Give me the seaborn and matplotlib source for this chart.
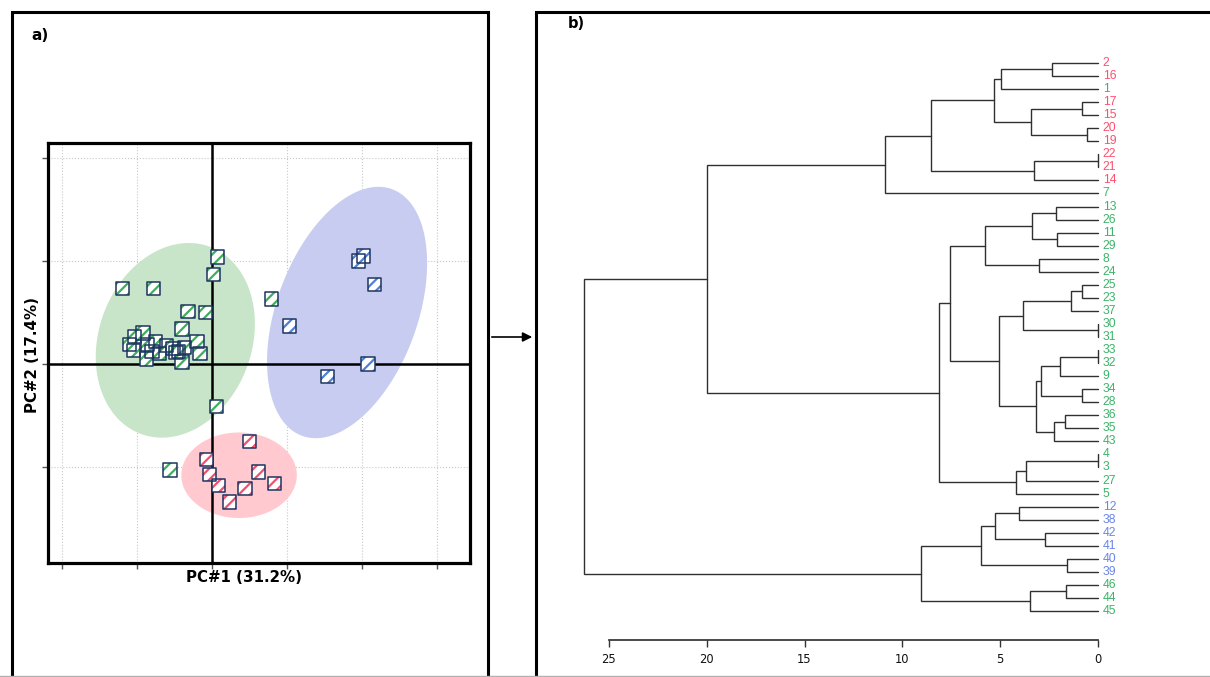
"""
PCA score plot (a) and hierarchical clustering dendrogram (b)
"""
import numpy as np
import pandas as pd
import seaborn as sns
import matplotlib.pyplot as plt
from matplotlib.patches import Rectangle, FancyArrowPatch
from matplotlib.lines import Line2D

sns.set_theme(style='ticks')
plt.rcParams['font.family'] = ['DejaVu Sans']
plt.rcParams['hatch.linewidth'] = 1.6

# ---- PCA scores ----
pc1_green = [0.07, 0.02, -1.19, -0.78, -0.32, -0.09, 0.79, -0.40, -0.92, -1.03,
             -1.10, -1.05, -0.86, -0.75, -0.70, -0.87, -0.61, -0.52, -0.48, -0.37,
             -0.20, -0.16, -0.40, 0.06, -0.56, -0.80, -0.45]
pc2_green = [1.04, 0.87, 0.73, 0.73, 0.51, 0.50, 0.63, 0.34, 0.30, 0.27,
             0.19, 0.13, 0.19, 0.22, 0.10, 0.05, 0.18, 0.15, 0.11, 0.16,
             0.22, 0.10, 0.02, -0.41, -1.03, 0.12, 0.12]
pc1_blue = [1.95, 2.02, 2.17, 1.03, 2.08, 1.54]
pc2_blue = [1.00, 1.05, 0.77, 0.37, 0.00, -0.12]
pc1_red = [0.50, -0.07, -0.03, 0.09, 0.62, 0.44, 0.83, 0.23]
pc2_red = [-0.75, -0.93, -1.07, -1.18, -1.05, -1.21, -1.16, -1.34]

# confidence ellipses: centre, semi-axis along tilt, semi-axis across (PC1 units), tilt from vertical (deg)
ell_names = ['green', 'blue', 'red']
ell_cx = [-0.49, 1.80, 0.36]
ell_cy = [0.23, 0.50, -1.08]
ell_a = [1.33, 1.75, 0.57]
ell_b = [1.02, 0.94, 0.77]
ell_tilt = [20, 20, 0]

# ---- dendrogram (leaf order top to bottom) ----
leaf_labels = ['2', '16', '1', '17', '15', '20', '19', '22', '21', '14', '7',
               '13', '26', '11', '29', '8', '24', '25', '23', '37', '30', '31',
               '33', '32', '9', '34', '28', '36', '35', '43', '4', '3', '27', '5',
               '12', '38', '42', '41', '40', '39', '46', '44', '45']
leaf_groups = (['red', 'red', 'green'] + ['red'] * 7 + ['green'] * 24
               + ['blue'] * 6 + ['green'] * 3)
merge_a = ['2', 'n0', '17', '20', 'n2', 'n1', '22', 'n6', 'n5', 'n8',
           '13', '11', 'n10', '8', 'n12', '25', 'n15', '30', 'n16', '33', 'n19',
           '34', 'n20', '36', 'n23', 'n22', 'n18', 'n14', '4', 'n28', 'n29', 'n27', 'n9',
           '12', '42', 'n33', '40', 'n35', '46', 'n38', 'n37', 'n32']
merge_b = ['16', '1', '15', '19', 'n3', 'n4', '21', '14', 'n7', '7',
           '26', '29', 'n11', '24', 'n13', '23', '37', '31', 'n17', '32', '9',
           '28', 'n21', '35', '43', 'n24', 'n25', 'n26', '3', '27', '5', 'n30', 'n31',
           '38', '41', 'n34', '39', 'n36', '44', '45', 'n39', 'n40']
merge_h = [2.37, 4.98, 0.80, 0.58, 3.44, 5.33, 0.0, 3.25, 8.55, 10.87,
           2.15, 2.08, 3.36, 3.02, 5.78, 0.80, 1.38, 0.0, 3.82, 0.0, 1.93,
           0.80, 2.91, 1.70, 2.25, 3.19, 5.06, 7.57, 0.0, 3.70, 4.19, 8.11, 20.0,
           4.02, 2.71, 5.25, 1.58, 5.96, 1.65, 3.46, 9.05, 26.28]
dist_ticks = [25, 20, 15, 10, 5, 0]

hatch_col = {'green': '#3fae5c', 'blue': '#4f7fd8', 'red': '#f2506e'}
fill_col = {'green': '#c9e5c9', 'blue': '#c7ccf0', 'red': '#ffc9cf'}
label_col = {'green': '#3cb46a', 'blue': '#6a86e8', 'red': '#ff4f6e'}
navy = '#1e3560'

fig = plt.figure(figsize=(12.1, 6.77), dpi=100)

# ---------------- panel a ----------------
ax = fig.add_axes([0.0397, 0.1684, 0.3488, 0.6204])
ax.set_xlim(-2.187, 3.44)
ax.set_ylim(-1.932, 2.146)
ax.set_xticks([-2, -1, 0, 1, 2, 3])
ax.set_yticks([-1, 0, 1, 2])
ax.set_xticklabels([])
ax.set_yticklabels([])
ax.tick_params(length=4, width=1, color='#555555', direction='out')
ax.grid(True, linestyle=':', color='#c8c8c8', linewidth=0.8)
ax.set_axisbelow(True)
for sp in ax.spines.values():
    sp.set_linewidth(2.3)
    sp.set_color('black')

# aspect ratio between y and x units on screen
bb = ax.get_position()
kx = bb.width * 1210 / (3.44 + 2.187)
ky = bb.height * 677 / (2.146 + 1.932)
ratio = ky / kx
t = np.linspace(0, 2 * np.pi, 200)
for name, cx, cy, a, b, tl in zip(ell_names, ell_cx, ell_cy, ell_a, ell_b, ell_tilt):
    th = np.deg2rad(tl)
    ex = a * np.cos(t) * np.sin(th) + b * np.sin(t) * np.cos(th)
    ey = a * np.cos(t) * np.cos(th) - b * np.sin(t) * np.sin(th)
    ax.fill(cx + ex, cy + ey / ratio, color=fill_col[name], lw=0, zorder=1)

ax.axhline(0, color='black', lw=1.8, zorder=2)
ax.axvline(0, color='black', lw=1.8, zorder=2)

groups = [('green', pc1_green, pc2_green), ('red', pc1_red, pc2_red),
          ('blue', pc1_blue, pc2_blue)]
for name, xs, ys in groups:
    df = pd.DataFrame({'PC1': xs, 'PC2': ys})
    sns.scatterplot(data=df, x='PC1', y='PC2', marker='s', s=92, color='white',
                    edgecolor=hatch_col[name], linewidth=0, hatch='///', ax=ax, zorder=3)
    sns.scatterplot(data=df, x='PC1', y='PC2', marker='s', s=92, facecolor='none',
                    edgecolor=navy, linewidth=1.1, ax=ax, zorder=4)
ax.set_xlabel('')
ax.set_ylabel('')

fig.text(243.5 / 1210, 1 - 578 / 677, 'PC#1 (31.2%)', ha='center', va='center',
         fontsize=10.8, fontweight='bold', color='black')
fig.text(32.3 / 1210, 1 - 355 / 677, 'PC#2 (17.4%)', ha='center', va='center',
         fontsize=10.8, fontweight='bold', rotation=90, color='black')

# ---------------- panel b ----------------
ax2 = fig.add_axes([0.47107, 0.05465, 0.52893, 0.88626])
ax2.set_xlim(26.99, -5.73)
ax2.set_ylim(44.22, -1.76)
pos = {lab: (i, 0.0) for i, lab in enumerate(leaf_labels)}
for i, (a, b, h) in enumerate(zip(merge_a, merge_b, merge_h)):
    ya, ha = pos[a]
    yb, hb = pos[b]
    ax2.plot([ha, h, h, hb], [ya, ya, yb, yb], color='#303030', lw=1.0,
             solid_joinstyle='miter', clip_on=False)
    pos['n%d' % i] = ((ya + yb) / 2, h)
for i, (lab, g) in enumerate(zip(leaf_labels, leaf_groups)):
    ax2.text(-0.25, i, lab, color=label_col[g], fontsize=8.8, ha='left', va='center',
             family=['Liberation Sans', 'DejaVu Sans'])
sns.despine(ax=ax2, left=True)
ax2.set_yticks([])
ax2.set_xticks(dist_ticks)
ax2.set_xticklabels([str(v) for v in dist_ticks], fontsize=8.3, color='#111111')
ax2.spines['bottom'].set_bounds(0, 25)
ax2.spines['bottom'].set_color('#333333')
ax2.tick_params(axis='x', length=5, width=1, color='#333333', pad=4)
ax2.patch.set_alpha(0)

# ---------------- frames, labels, arrow ----------------
top = 1 - 12 / 677
fig.add_artist(Rectangle((12 / 1210, -0.1), (488 - 12) / 1210, top + 0.1,
                         transform=fig.transFigure, fill=False, lw=2.2, ec='black'))
fig.add_artist(Rectangle((536 / 1210, -0.1), 1.0, top + 0.1,
                         transform=fig.transFigure, fill=False, lw=2.2, ec='black'))
fig.add_artist(Line2D([0, 1], [0.8 / 677, 0.8 / 677], transform=fig.transFigure,
                      color='#b0b0b0', lw=1))
fig.add_artist(FancyArrowPatch((489 / 1210, 1 - 337 / 677), (535 / 1210, 1 - 337 / 677),
                               transform=fig.transFigure, arrowstyle='-|>',
                               mutation_scale=14, color='black', lw=1.2))
fig.text(40 / 1210, 1 - 35 / 677, 'a)', ha='center', va='center', fontsize=11,
         fontweight='bold', color='black')
fig.text(576 / 1210, 1 - 24 / 677, 'b)', ha='center', va='center', fontsize=10.5,
         fontweight='bold', color='black')

plt.savefig('out.png', dpi=100)
